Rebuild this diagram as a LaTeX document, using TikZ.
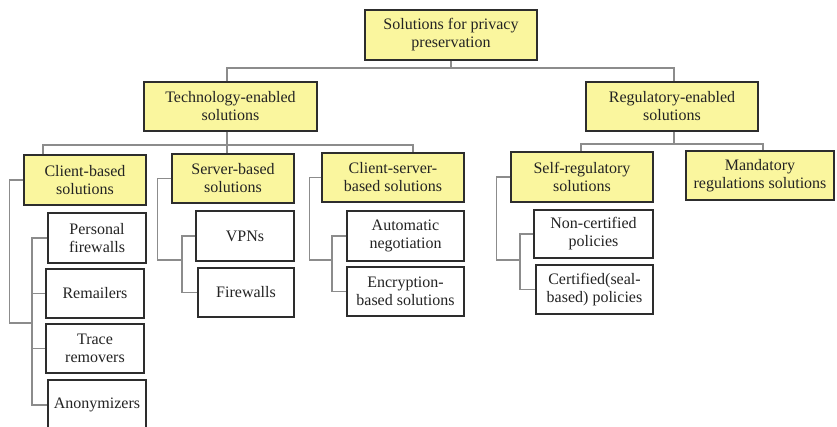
\documentclass[tikz,border=0pt]{standalone}
\usepackage{fontspec}
\setmainfont{Liberation Serif}
\usetikzlibrary{calc}
\definecolor{boxyellow}{RGB}{250,246,158}
\definecolor{boxline}{RGB}{45,45,45}
\definecolor{linkgray}{RGB}{140,140,140}
\definecolor{txt}{RGB}{35,35,35}
\begin{document}
\begin{tikzpicture}[x=1pt,y=-1pt,
  box/.style={draw=boxline,line width=1.1pt,rectangle,inner sep=0pt,
    minimum height=49pt,align=center,text=txt,
    font=\fontsize{16}{18}\selectfont},
  cat/.style={box,fill=boxyellow},
  leaf/.style={box,fill=white},
  conn/.style={draw=linkgray,line width=1.4pt}]
\useasboundingbox (0,0) rectangle (837,427);
\clip (0,0) rectangle (837,427);

% top levels
\node[cat,minimum width=172pt,minimum height=50pt] (root) at (451,35) {Solutions for privacy\\preservation};
\node[cat,minimum width=173pt] (tech) at (230.5,106.5) {Technology-enabled\\solutions};
\node[cat,minimum width=172pt] (reg) at (672,106.5) {Regulatory-enabled\\solutions};

% technology branches
\node[cat,minimum width=122pt,minimum height=50pt] (client) at (85,180) {Client-based\\solutions};
\node[cat,minimum width=122pt] (server) at (233,178.5) {Server-based\\solutions};
\node[cat,minimum width=142pt] (cs) at (393,177.5) {Client-server-\\based solutions};

% regulatory branches
\node[cat,minimum width=142pt,minimum height=50pt] (self) at (582,177) {Self-regulatory\\solutions};
\node[cat,minimum width=148pt] (mand) at (760,175.5) {Mandatory\\regulations solutions};

% client-based leaves
\node[leaf,minimum width=98pt,minimum height=50pt] (personal) at (97,238) {Personal\\firewalls};
\node[leaf,minimum width=98pt] (remail) at (95,293.5) {Remailers};
\node[leaf,minimum width=98pt] (trace) at (95,348.5) {Trace\\removers};
\node[leaf,minimum width=98pt,minimum height=50pt] (anon) at (97,405) {Anonymizers};

% server-based leaves
\node[leaf,minimum width=98pt,minimum height=50pt] (vpn) at (245,236) {VPNs};
\node[leaf,minimum width=96pt] (fw) at (246,292.5) {Firewalls};

% client-server leaves
\node[leaf,minimum width=117pt,minimum height=50pt] (auto) at (405.5,236) {Automatic\\negotiation};
\node[leaf,minimum width=117pt] (enc) at (405.5,291.5) {Encryption-\\based solutions};

% self-regulatory leaves
\node[leaf,minimum width=119pt,minimum height=48pt] (noncert) at (593.5,234) {Non-certified\\policies};
\node[leaf,minimum width=117pt] (cert) at (594.5,289.5) {Certified(seal-\\based) policies};

% bus lines and bracket turning points
\coordinate (rootbus) at (451,68);
\coordinate (techbus) at (227,145);
\coordinate (regbus) at (674,144);
\coordinate (cbx) at (32,323);
\coordinate (sbx) at (182,260);
\coordinate (csx) at (332,260);
\coordinate (srx) at (520,260);

% root to the two main groups
\draw[conn] (root.south) -- (rootbus);
\draw[conn] ([xshift=-3.5pt]tech.north) |- (rootbus) -| ([xshift=2pt]reg.north);

% technology-enabled bus
\draw[conn] ([xshift=-3.5pt]tech.south) -- (techbus);
\draw[conn] ([xshift=-42pt]client.north) |- (techbus) -| ([xshift=20pt]cs.north);
\draw[conn] (techbus) -- ([xshift=-6pt]server.north);

% regulatory-enabled bus
\draw[conn] ([xshift=2pt]reg.south) -- (regbus);
\draw[conn] ([xshift=-1pt]self.north) |- (regbus) -| ([xshift=3pt]mand.north);

% client-based bracket
\draw[conn] (client.west) -- ++(-14,0) |- (cbx);
\draw[conn] (personal.west) -- (personal.west -| cbx) -- (anon.west -| cbx) -- (anon.west);
\draw[conn] (remail.west -| cbx) -- (remail.west);
\draw[conn] (trace.west -| cbx) -- (trace.west);

% server-based bracket
\draw[conn] (server.west) -- ++(-14,0) |- (sbx);
\draw[conn] (vpn.west) -- (vpn.west -| sbx) -- (fw.west -| sbx) -- (fw.west);

% client-server bracket
\draw[conn] (cs.west) -- ++(-12,0) |- (csx);
\draw[conn] (auto.west) -- (auto.west -| csx) -- (enc.west -| csx) -- (enc.west);

% self-regulatory bracket
\draw[conn] (self.west) -- ++(-14,0) |- (srx);
\draw[conn] (noncert.west) -- (noncert.west -| srx) -- (cert.west -| srx) -- (cert.west);
\end{tikzpicture}
\end{document}
